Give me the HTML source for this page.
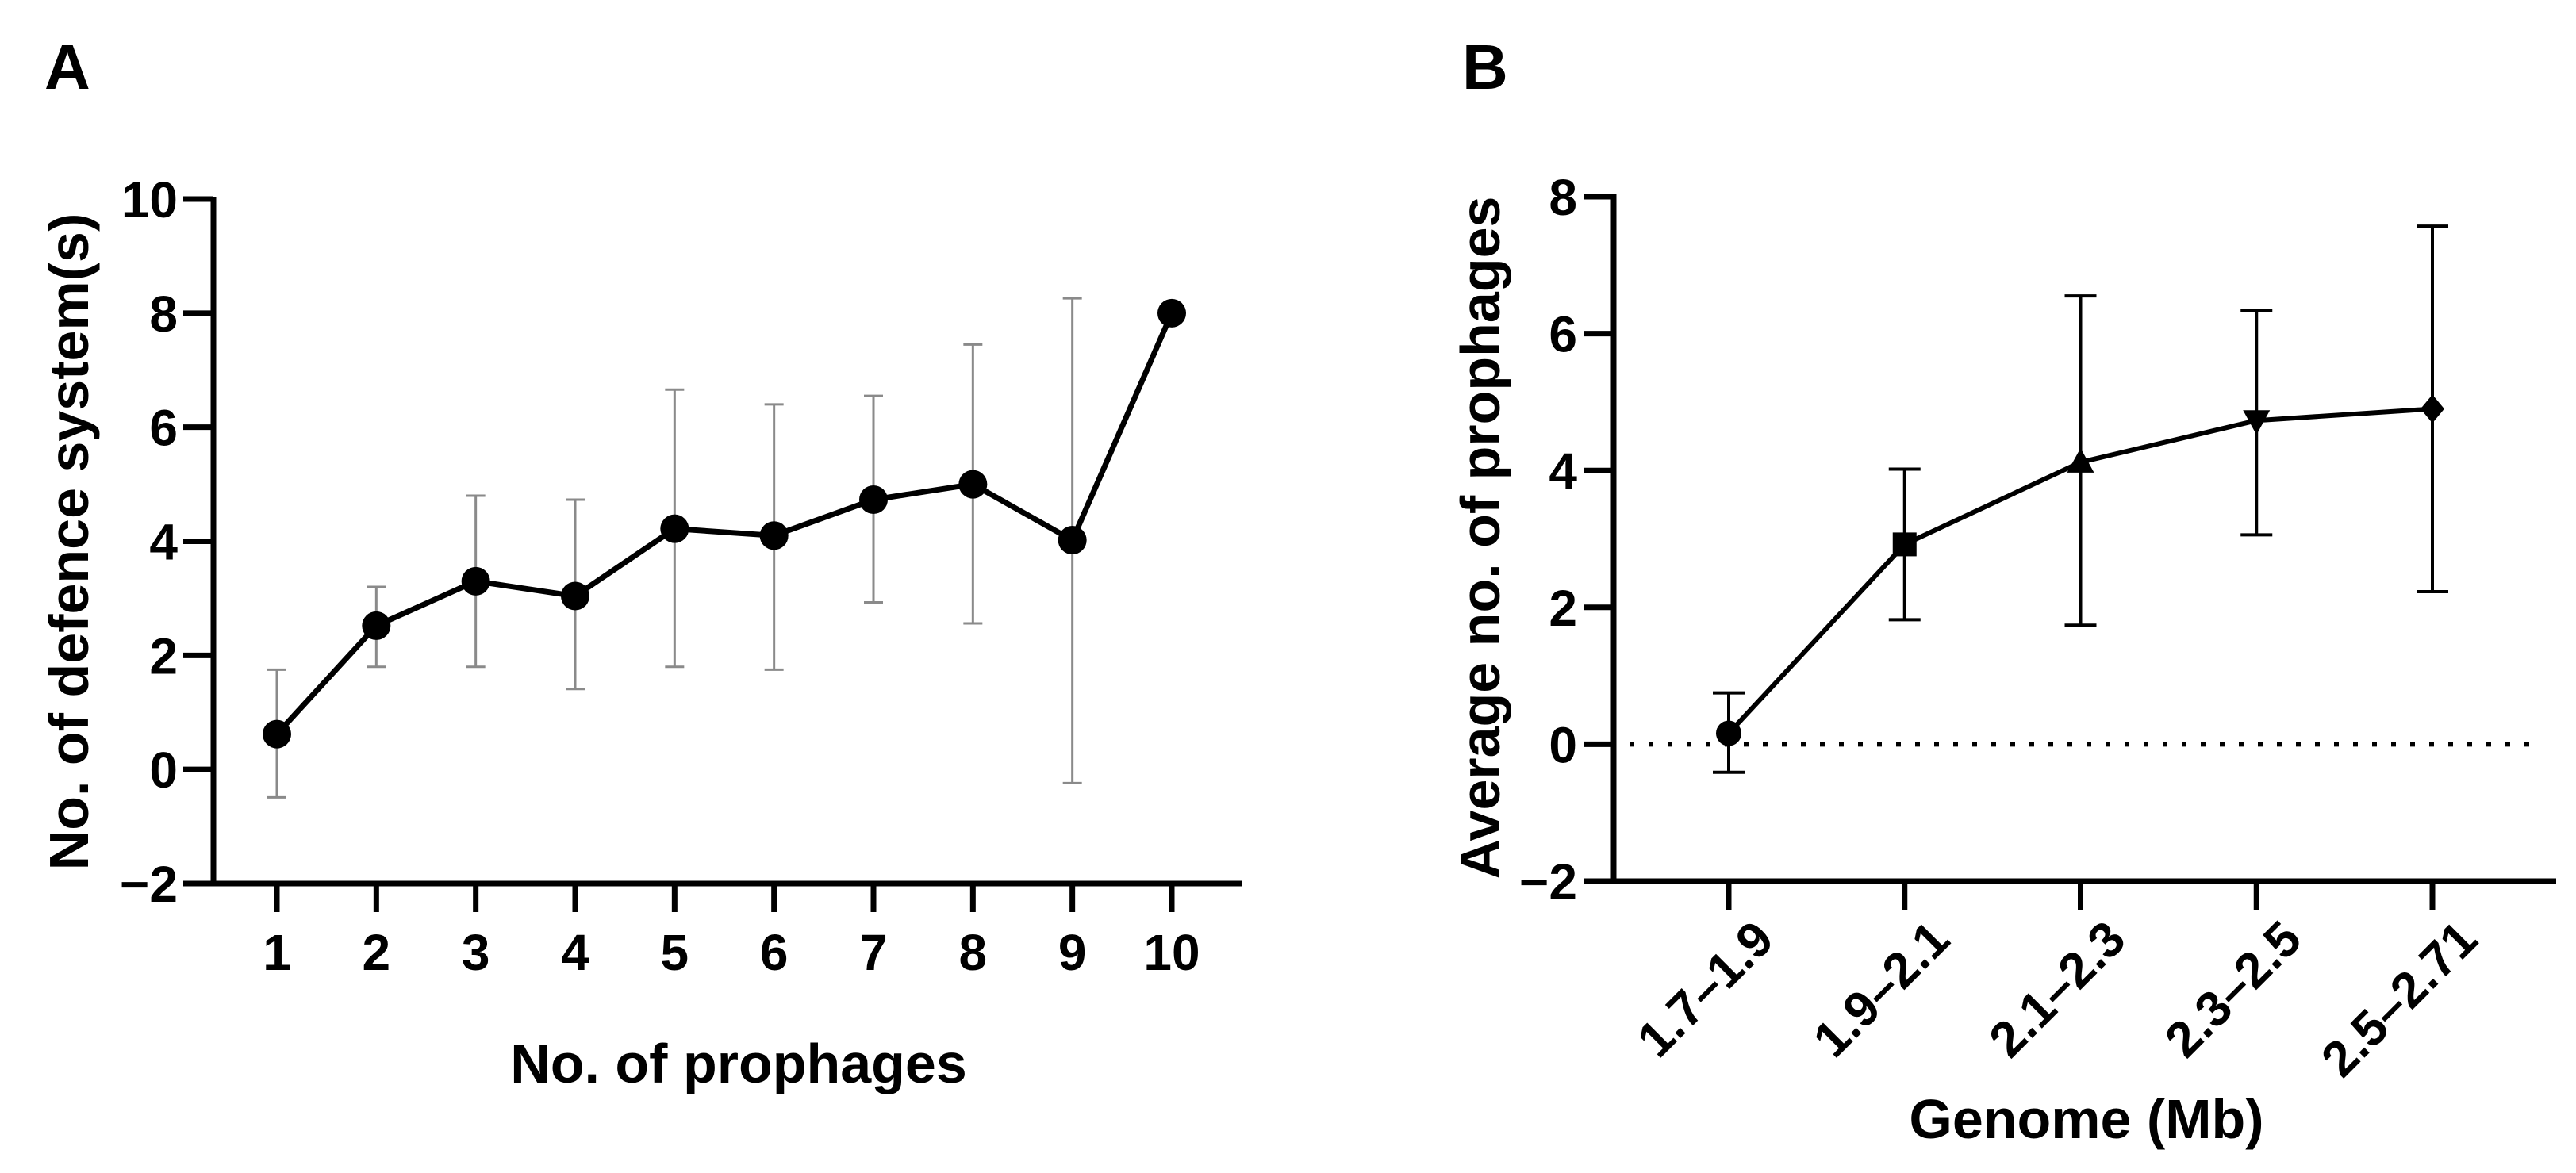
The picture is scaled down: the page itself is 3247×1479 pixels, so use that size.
<!DOCTYPE html>
<html><head><meta charset="utf-8">
<style>
html,body{margin:0;padding:0;background:#fff;}
svg{display:block;font-family:"Liberation Sans",Arial,sans-serif;font-weight:bold;}
</style></head>
<body>
<svg id="fig" width="3247" height="1479" viewBox="0 0 3247 1479" xmlns="http://www.w3.org/2000/svg">
<rect width="3247" height="1479" fill="#fff"/>
<text x="56" y="112" font-size="80">A</text>
<text x="1843" y="112" font-size="80">B</text>
<g id="chartA"></g>
<g id="chartB"></g>
</svg>
<script>
// ---- Chart A data ----
const aCategories = [1,2,3,4,5,6,7,8,9,10];
const aMeans = [0.62,2.52,3.3,3.04,4.22,4.1,4.73,5.0,4.02,8.0];
const aUpper = [1.75,3.2,4.8,4.73,6.66,6.4,6.55,7.45,8.26,null];
const aLower = [-0.49,1.8,1.8,1.41,1.8,1.75,2.93,2.56,-0.24,null];
const aYTicks = [-2,0,2,4,6,8,10];
// ---- Chart B data ----
const bCategories = ["1.7–1.9","1.9–2.1","2.1–2.3","2.3–2.5","2.5–2.71"];
const bMeans = [0.16,2.92,4.12,4.73,4.9];
const bUpper = [0.75,4.02,6.55,6.34,7.57];
const bLower = [-0.41,1.82,1.74,3.06,2.23];
const bMarkers = ["circle","square","triangle","triangle-down","diamond"];
const bYTicks = [-2,0,2,4,6,8];

const NS="http://www.w3.org/2000/svg";
function mk(parent,tag,attrs){const e=document.createElementNS(NS,tag);for(const k in attrs)e.setAttribute(k,attrs[k]);parent.appendChild(e);return e;}

// ---- Chart A ----
(function(){
  const g=document.getElementById('chartA');
  const x0=269, yTop=251, yBot=1114, xEnd=1565;
  const yMin=-2,yMax=10;
  const y=v=>yBot-(v-yMin)/(yMax-yMin)*(yBot-yTop);
  const x=i=>349+i*(1477-349)/9;
  aYTicks.forEach(t=>{
    const tk=mk(g,'line',{x1:231,x2:x0,y1:y(t),y2:y(t),stroke:'#000','stroke-width':7});
    
    
    const tl=mk(g,'text',{x:224,y:y(t)+23,'font-size':64,'text-anchor':'end'});
    tl.textContent=t<0?'−'+Math.abs(t):String(t);
    
    
  });
  aCategories.forEach((c,i)=>{
    const tk=mk(g,'line',{x1:x(i),x2:x(i),y1:yBot,y2:yBot+36,stroke:'#000','stroke-width':7});
    
    
    const tl=mk(g,'text',{x:x(i),y:1223,'font-size':64,'text-anchor':'middle'});
    tl.textContent=String(c);
    
    
  });
  const ax=mk(g,'path',{d:`M${x0} ${yTop-3} V${yBot} H${xEnd}`,fill:'none',stroke:'#000','stroke-width':7});
  
  
  aCategories.forEach((c,i)=>{
    if(aUpper[i]==null)return;
    const e=mk(g,'path',{d:`M${x(i)} ${y(aUpper[i])} V${y(aLower[i])} M${x(i)-12} ${y(aUpper[i])} h24 M${x(i)-12} ${y(aLower[i])} h24`,stroke:'#8a8a8a','stroke-width':3,fill:'none'});
    
    
  });
  const ln=mk(g,'polyline',{points:aMeans.map((v,i)=>x(i)+','+y(v)).join(' '),fill:'none',stroke:'#000','stroke-width':7,'stroke-linejoin':'round'});
  
  
  aMeans.forEach((v,i)=>{
    const p=mk(g,'circle',{cx:x(i),cy:y(v),r:18,fill:'#000'});
    
    
  });
  const xt=mk(g,'text',{x:931,y:1365,'font-size':70,'text-anchor':'middle'});
  xt.textContent='No. of prophages';
  
  
  const yt=mk(g,'text',{x:0,y:0,'font-size':70,'text-anchor':'middle',transform:'translate(111,683) rotate(-90)'});
  yt.textContent='No. of defence system(s)';
  
  
})();

// ---- Chart B ----
(function(){
  const g=document.getElementById('chartB');
  const x0=2034, yTop=248, yBot=1111, xEnd=3222;
  const yMin=-2,yMax=8;
  const y=v=>yBot-(v-yMin)/(yMax-yMin)*(yBot-yTop);
  const x=i=>2179+i*(3066-2179)/4;
  const z=mk(g,'line',{x1:2054,x2:3206,y1:y(0),y2:y(0),stroke:'#000','stroke-width':6,'stroke-dasharray':'6 18'});
  
  
  bYTicks.forEach(t=>{
    const tk=mk(g,'line',{x1:1996,x2:x0,y1:y(t),y2:y(t),stroke:'#000','stroke-width':7});
    
    
    const tl=mk(g,'text',{x:1988,y:y(t)+23,'font-size':64,'text-anchor':'end'});
    tl.textContent=t<0?'−'+Math.abs(t):String(t);
    
    
  });
  bCategories.forEach((c,i)=>{
    const tk=mk(g,'line',{x1:x(i),x2:x(i),y1:yBot,y2:yBot+36,stroke:'#000','stroke-width':7});
    
    
    const tl=mk(g,'text',{x:0,y:0,'font-size':63,'text-anchor':'end',transform:`translate(${x(i)+60},${1188}) rotate(-45)`});
    tl.textContent=c;
    
    
  });
  const ax=mk(g,'path',{d:`M${x0} ${yTop-3} V${yBot} H${xEnd}`,fill:'none',stroke:'#000','stroke-width':7});
  
  
  bCategories.forEach((c,i)=>{
    const e=mk(g,'path',{d:`M${x(i)} ${y(bUpper[i])} V${y(bLower[i])} M${x(i)-20} ${y(bUpper[i])} h40 M${x(i)-20} ${y(bLower[i])} h40`,stroke:'#000','stroke-width':4,fill:'none'});
    
    
  });
  const ln=mk(g,'polyline',{points:bMeans.map((v,i)=>x(i)+','+y(v)).join(' '),fill:'none',stroke:'#000','stroke-width':6,'stroke-linejoin':'round'});
  
  
  bMeans.forEach((v,i)=>{
    const cx=x(i), cy=y(v), s=bMarkers[i]; let p;
    if(s==='circle') p=mk(g,'circle',{cx,cy,r:16,fill:'#000'});
    else if(s==='square') p=mk(g,'rect',{x:cx-15,y:cy-15,width:30,height:30,fill:'#000'});
    else if(s==='triangle') p=mk(g,'polygon',{points:`${cx},${cy-18} ${cx+17},${cy+13} ${cx-17},${cy+13}`,fill:'#000'});
    else if(s==='triangle-down') p=mk(g,'polygon',{points:`${cx},${cy+18} ${cx+17},${cy-13} ${cx-17},${cy-13}`,fill:'#000'});
    else p=mk(g,'polygon',{points:`${cx},${cy-18} ${cx+15},${cy} ${cx},${cy+18} ${cx-15},${cy}`,fill:'#000'});
    
    
  });
  const xt=mk(g,'text',{x:2630,y:1435,'font-size':70,'text-anchor':'middle'});
  xt.textContent='Genome (Mb)';
  
  
  const yt=mk(g,'text',{x:0,y:0,'font-size':70,'text-anchor':'middle',transform:'translate(1890,678) rotate(-90)'});
  yt.textContent='Average no. of prophages';
  
  
})();
</script>
</body></html>
